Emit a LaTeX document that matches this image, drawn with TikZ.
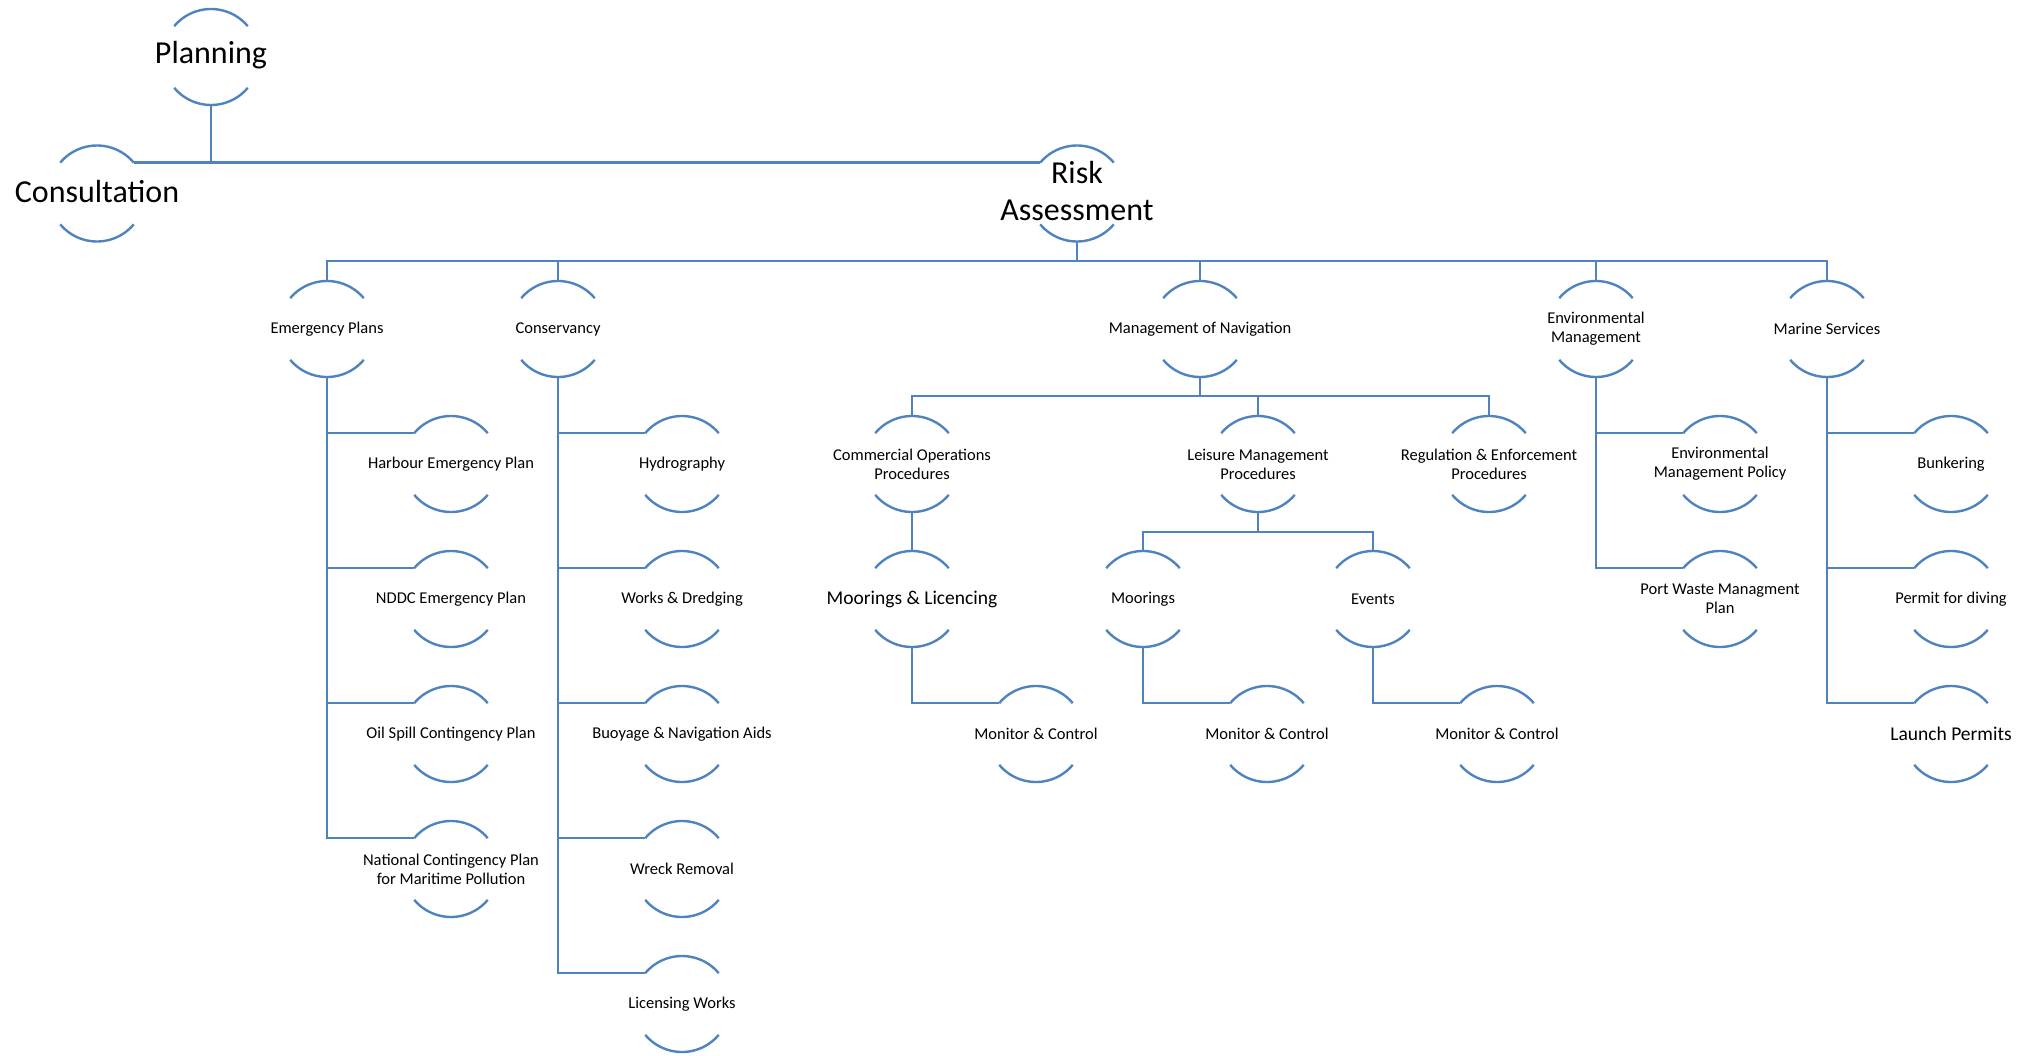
\documentclass[tikz,border=0pt]{standalone}
\usepackage{fontspec}
\setmainfont{Carlito}
\definecolor{lnc}{RGB}{78,131,192}
\begin{document}
\begin{tikzpicture}[x=1pt,y=1pt,
  ln/.style={draw=lnc,line width=2.6pt},
  box/.style={circle,minimum size=96pt,inner sep=0pt,outer sep=0pt},
  sm/.style={box,label={[font=\fontsize{16.5}{19}\selectfont,align=center,text=black]center:#1}},
  md/.style={box,label={[font=\fontsize{19.5}{22}\selectfont,align=center,text=black]center:#1}},
  lg/.style={box,label={[font=\fontsize{32}{37}\selectfont,align=center,text=black,yshift=2pt]center:#1}}]
\path[use as bounding box] (0,0) rectangle (2035,-1055);
% level 0/1
\node[lg={Planning}] (plan) at (211,-57) {};
\node[lg={Consultation}] (cons) at (97,-193.5) {};
\node[lg={Risk\\Assessment}] (risk) at (1077,-193.5) {};
% level 2
\node[sm={Emergency Plans}] (emerg) at (327,-329) {};
\node[sm={Conservancy}] (consv) at (558,-329) {};
\node[sm={Management of Navigation}] (mnav) at (1200,-329) {};
\node[sm={Environmental\\Management}] (env) at (1596,-329) {};
\node[sm={Marine Services}] (mar) at (1827,-329) {};
% emergency children
\node[sm={Harbour Emergency Plan}] (harb) at (451,-464) {};
\node[sm={NDDC Emergency Plan}] (nddc) at (451,-599) {};
\node[sm={Oil Spill Contingency Plan}] (oil) at (451,-734) {};
\node[sm={National Contingency Plan\\for Maritime Pollution}] (natc) at (451,-869) {};
% conservancy children
\node[sm={Hydrography}] (hydro) at (682,-464) {};
\node[sm={Works \& Dredging}] (works) at (682,-599) {};
\node[sm={Buoyage \& Navigation Aids}] (buoy) at (682,-734) {};
\node[sm={Wreck Removal}] (wreck) at (682,-869) {};
\node[sm={Licensing Works}] (lic) at (682,-1004) {};
% navigation
\node[sm={Commercial Operations\\Procedures}] (com) at (912,-464) {};
\node[sm={Leisure Management\\Procedures}] (leis) at (1258,-464) {};
\node[sm={Regulation \& Enforcement\\Procedures}] (reg) at (1489,-464) {};
\node[md={Moorings \& Licencing}] (ml) at (912,-599) {};
\node[sm={Monitor \& Control}] (mc1) at (1036,-734) {};
\node[sm={Moorings}] (moor) at (1143,-599) {};
\node[sm={Events}] (evt) at (1373,-599) {};
\node[sm={Monitor \& Control}] (mc2) at (1267,-734) {};
\node[sm={Monitor \& Control}] (mc3) at (1497,-734) {};
% environmental
\node[sm={Environmental\\Management Policy}] (envp) at (1720,-464) {};
\node[sm={Port Waste Managment\\Plan}] (port) at (1720,-599) {};
% marine
\node[sm={Bunkering}] (bunk) at (1951,-464) {};
\node[sm={Permit for diving}] (dive) at (1951,-599) {};
\node[md={Launch Permits}] (launch) at (1951,-734) {};
% arcs
\foreach \n in {plan,cons,risk,emerg,consv,mnav,env,mar,harb,nddc,oil,natc,hydro,works,buoy,wreck,lic,com,leis,reg,ml,mc1,moor,evt,mc2,mc3,envp,port,bunk,dive,launch}{
  \draw[ln,line width=2.4pt] (\n.140) arc (140:40:48);
  \draw[ln,line width=2.4pt] (\n.220) arc (220:320:48);
}
% bus coordinates
\coordinate (busA) at (0,-261);
\coordinate (busB) at (0,-396);
\coordinate (busC) at (0,-532);
% connectors
\draw[ln] (plan.south) -- (plan.south |- cons.40);
\draw[ln] (cons.40) -- (risk.140);
\foreach \c in {emerg,consv,mnav,env,mar}
  \draw[ln] (risk.south) -- (risk.south |- busA) -| (\c.north);
\foreach \c in {harb,nddc,oil,natc}
  \draw[ln] (emerg.south) |- (\c.140);
\foreach \c in {hydro,works,buoy,wreck,lic}
  \draw[ln] (consv.south) |- (\c.140);
\foreach \c in {com,leis,reg}
  \draw[ln] (mnav.south) -- (mnav.south |- busB) -| (\c.north);
\draw[ln] (com.south) -- (ml.north);
\draw[ln] (ml.south) |- (mc1.140);
\foreach \c in {moor,evt}
  \draw[ln] (leis.south) -- (leis.south |- busC) -| (\c.north);
\draw[ln] (moor.south) |- (mc2.140);
\draw[ln] (evt.south) |- (mc3.140);
\foreach \c in {envp,port}
  \draw[ln] (env.south) |- (\c.140);
\foreach \c in {bunk,dive,launch}
  \draw[ln] (mar.south) |- (\c.140);
\end{tikzpicture}
\end{document}
